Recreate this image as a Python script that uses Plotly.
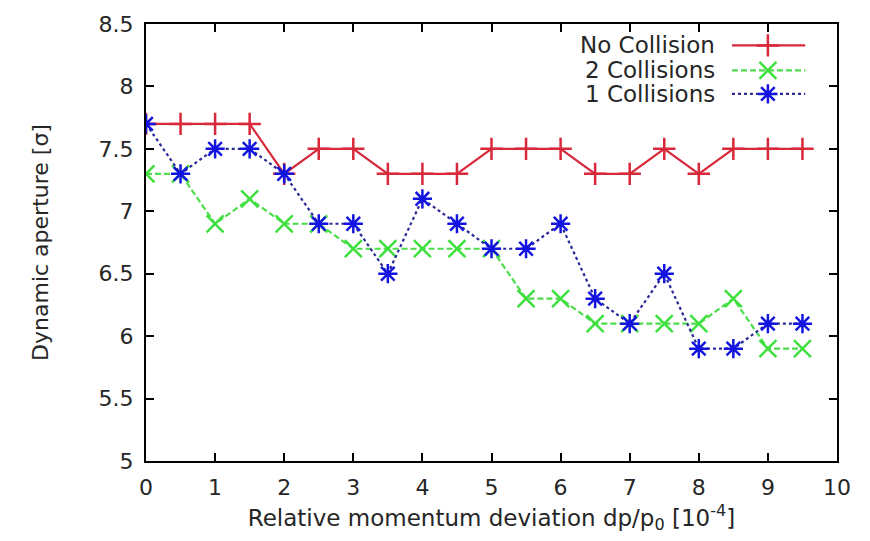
import plotly.graph_objects as go

# ---- data ----
dp = [0, 0.5, 1, 1.5, 2, 2.5, 3, 3.5, 4, 4.5, 5, 5.5, 6, 6.5, 7, 7.5, 8, 8.5, 9, 9.5]
no_collision = [7.7, 7.7, 7.7, 7.7, 7.3, 7.5, 7.5, 7.3, 7.3, 7.3,
                7.5, 7.5, 7.5, 7.3, 7.3, 7.5, 7.3, 7.5, 7.5, 7.5]
two_collisions = [7.3, 7.3, 6.9, 7.1, 6.9, 6.9, 6.7, 6.7, 6.7, 6.7,
                  6.7, 6.3, 6.3, 6.1, 6.1, 6.1, 6.1, 6.3, 5.9, 5.9]
one_collision = [7.7, 7.3, 7.5, 7.5, 7.3, 6.9, 6.9, 6.5, 7.1, 6.9,
                 6.7, 6.7, 6.9, 6.3, 6.1, 6.5, 5.9, 5.9, 6.1, 6.1]
series_names = ["No Collision", "2 Collisions", "1 Collisions"]
x_ticks = list(range(0, 11))
y_ticks = [5, 5.5, 6, 6.5, 7, 7.5, 8, 8.5]

# ---- styles ----
FONT = "DejaVu Sans"
TXT = "#262626"
styles = [
    dict(line=dict(color="#d8283a", width=2.2), symbol="cross-thin", msize=16,
         mcolor="#d8283a"),
    dict(line=dict(color="#4cdc4c", width=2.2, dash="6px,3px"), symbol="x-thin",
         msize=17, mcolor="#3ee03e"),
    dict(line=dict(color="#2a2a96", width=2.2, dash="3px,3px"), symbol="asterisk",
         msize=16, mcolor="#1414e0"),
]
values = [no_collision, two_collisions, one_collision]

fig = go.Figure()
for name, vals, st in zip(series_names, values, styles):
    fig.add_trace(go.Scatter(
        x=dp, y=vals, mode="lines+markers", name=name, showlegend=False,
        line=st["line"],
        marker=dict(symbol=st["symbol"], size=st["msize"], color=st["mcolor"],
                    line=dict(color=st["mcolor"], width=2.5)),
    ))

# ---- hand-drawn legend (text left, key right, gnuplot style) ----
leg_text_x = 0.826
leg_key_x0, leg_key_x1, leg_key_xm = 0.848, 0.954, 0.900
leg_rows_y = [0.951, 0.894, 0.840]
for name, st, ly in zip(series_names, styles, leg_rows_y):
    fig.add_trace(go.Scatter(
        x=[leg_key_x0, leg_key_xm, leg_key_x1], y=[ly, ly, ly],
        xaxis="x2", yaxis="y2", mode="lines", line=st["line"],
        showlegend=False, hoverinfo="skip"))
    fig.add_trace(go.Scatter(
        x=[leg_key_xm], y=[ly], xaxis="x2", yaxis="y2", mode="markers",
        marker=dict(symbol=st["symbol"], size=st["msize"], color=st["mcolor"],
                    line=dict(color=st["mcolor"], width=2.5)),
        showlegend=False, hoverinfo="skip"))
    fig.add_annotation(text=name, xref="paper", yref="paper", x=leg_text_x, y=ly,
                       xanchor="right", yanchor="middle", showarrow=False,
                       font=dict(family=FONT, size=23, color=TXT))

axis_common = dict(
    showline=True, linecolor="black", linewidth=2, mirror="allticks",
    ticks="inside", ticklen=8, tickwidth=1.5, tickcolor="black",
    showgrid=False, zeroline=False,
    tickfont=dict(family=FONT, size=22, color=TXT),
)

fig.update_layout(
    width=870, height=541,
    margin=dict(l=146, r=33, t=16, b=80),
    paper_bgcolor="white", plot_bgcolor="white",
    xaxis=dict(range=[0, 10], tickvals=x_ticks, ticktext=[str(t) for t in x_ticks],
               title=dict(text="Relative momentum deviation dp/p<sub>0</sub> [10<sup>-4</sup>]",
                          font=dict(family=FONT, size=23, color=TXT), standoff=10),
               ticklabelstandoff=6,
               **axis_common),
    yaxis=dict(range=[5, 8.5], tickvals=y_ticks, ticktext=[f"{t:g}" for t in y_ticks],
               title=dict(text="Dynamic aperture [σ]",
                          font=dict(family=FONT, size=22, color=TXT), standoff=44),
               ticklabelstandoff=6,
               **axis_common),
    xaxis2=dict(range=[0, 1], overlaying="x", visible=False, domain=[0, 1]),
    yaxis2=dict(range=[0, 1], overlaying="y", visible=False, domain=[0, 1]),
)

fig.write_html("out.html")
